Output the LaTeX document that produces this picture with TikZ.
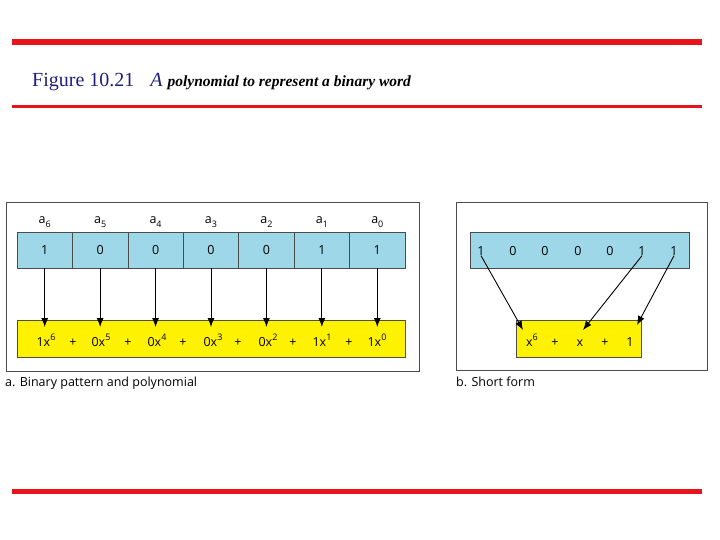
\documentclass[tikz,border=0pt]{standalone}
\usepackage{fontspec}
\usetikzlibrary{arrows.meta}
\setmainfont{Liberation Serif}
\newfontfamily\diagsf{Open Sans}
\definecolor{cellblue}{HTML}{9ED8E8}
\definecolor{titleblue}{HTML}{1F1F7A}
\definecolor{redline}{HTML}{E8141B}
\newcommand{\sups}[1]{\raisebox{0.45em}{\fontsize{9}{10}\selectfont #1}}
\newcommand{\subs}[1]{\raisebox{-0.25em}{\fontsize{9}{10}\selectfont #1}}
\begin{document}
\begin{tikzpicture}[x=1pt,y=-1pt,
  frame/.style={draw=black!70,line width=0.8pt},
  bluebox/.style={draw=black!70,fill=cellblue,line width=0.6pt},
  yelbox/.style={draw=black!70,fill=yellow,line width=0.6pt},
  txt/.style={font=\diagsf\fontsize{12.5}{14}\selectfont,inner sep=0pt},
  arr/.style={-{Latex[length=9pt,width=7pt]},line width=0.9pt}]
\useasboundingbox (0,0) rectangle (720,540);
\fill[redline] (12,39.5) rectangle (702,45);
\fill[redline] (12,105) rectangle (702,108);
\fill[redline] (12,488.5) rectangle (702,494);
\node[anchor=base west,inner sep=0pt] (title) at (32,87) {\fontsize{20}{24}\selectfont\color{titleblue}Figure 10.21\hspace{16pt}\itshape A \fontsize{15.5}{18}\selectfont\bfseries\color{black}polynomial to represent a binary word};
% left panel
\draw[frame] (6,202) rectangle (419,371);
\node[yelbox,minimum width=388pt,minimum height=37pt,anchor=north west,inner sep=0pt] (poly) at (17,320) {};
\foreach \i/\v/\k in {0/1/6,1/0/5,2/0/4,3/0/3,4/0/2,5/1/1,6/1/0}{
  \pgfmathsetmacro\cx{17+55.43*(\i+0.5)}
  \node[bluebox,minimum width=55.43pt,minimum height=36pt,inner sep=0pt,txt] (c\i) at (\cx,250) {\v};
  \node[txt,anchor=base] (l\i) at (\cx,224) {a\subs{\k}};
  \coordinate (e\i) at (\cx,327);
  \draw[arr] (c\i.south) -- (e\i);
}
\foreach \x/\t [count=\j] in {46/1x\sups{6},73/+,101/0x\sups{5},128/+,157/0x\sups{4},183/+,213/0x\sups{3},238/+,268/0x\sups{2},293/+,322/1x\sups{1},349/+,377/1x\sups{0}}{
  \node[txt,anchor=base] (p\j) at (\x,346) {\t};
}
\node[txt,anchor=base west] (capa) at (5,386) {a. Binary pattern and polynomial};
% right panel
\draw[frame] (456,202) rectangle (707,370);
\node[bluebox,minimum width=219pt,minimum height=36pt,anchor=north west,inner sep=0pt] (bar) at (470,232) {};
\foreach \x/\v [count=\j] in {481/1,513/0,545/0,578/0,610/0,642/1,674/1}{
  \node[txt] (d\j) at (\x,251) {\v};
}
\node[yelbox,minimum width=125pt,minimum height=37pt,anchor=north west,inner sep=0pt] (short) at (516,320) {};
\node[txt,anchor=base] (s1) at (532,346) {x\sups{6}};
\node[txt,anchor=base] (s2) at (555,346) {+};
\node[txt,anchor=base] (s3) at (580,346) {x};
\node[txt,anchor=base] (s4) at (605,346) {+};
\node[txt,anchor=base] (s5) at (630,346) {1};
\coordinate (t1) at (523,330);
\coordinate (t2) at (583,330);
\coordinate (t3) at (637,325);
\draw[arr] (d1.south) -- (t1);
\draw[arr] (d6.south) -- (t2);
\draw[arr] (d7.south) -- (t3);
\node[txt,anchor=base west] (capb) at (456,386) {b. Short form};
\end{tikzpicture}
\end{document}
